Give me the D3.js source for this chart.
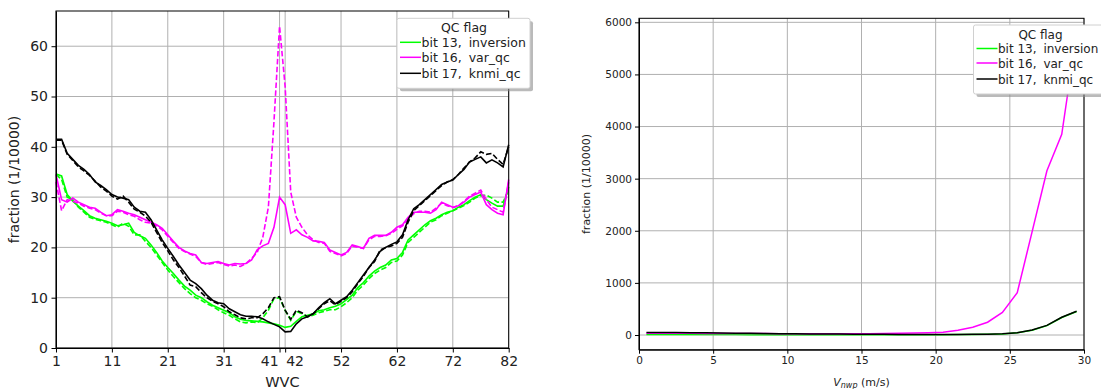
<!DOCTYPE html>
<html>
<head>
<meta charset="utf-8">
<script src="https://cdn.jsdelivr.net/npm/d3@7"></script>
<style>
  body { margin: 0; background: #fff; }
  svg, svg text { font-family: "DejaVu Sans", sans-serif; }
  .grid line { stroke: #b0b0b0; stroke-width: 1; }
  .axis path, .axis line { stroke: #000; }
  .axis text { fill: #222; }
</style>
</head>
<body>
<div id="chart"></div>
<script>
// ---- data, left panel (x = WVC 1..82) ----
var wvc = d3.range(1, 83);
var wvcTicks = [1, 11, 21, 31, 41, 42, 52, 62, 72, 82];

var inversionSolid = [34.6,34.2,30.5,29.2,28.2,27.3,26.3,25.8,25.5,25.2,24.8,24.3,24.5,24.8,23,22.3,21.8,20.5,19,17.3,
  16,14.8,13.5,12.3,11.5,10.5,10,9.2,8.5,8,7.5,7,6.2,5.7,5.5,5.4,5.3,5.2,5,4.8,
  4.5,4.1,4.3,5.3,6.2,6.5,6.8,7.4,7.6,8,8.3,8.8,9.6,10.5,12,13,14.3,15.3,16,16.5,
  17.5,17.8,19,21.5,22.5,23.5,24.5,25.3,25.8,26.5,27,27.3,28,28.5,29.3,30,30.5,29.5,28.8,28.2,
  28.2,32];
var inversionDashed = [34.5,33.5,30,29.5,28,27,26,25.6,25.3,25,24.5,24,24.8,24.2,22.5,22.5,21.2,20,18.5,17,
  15.5,14.2,13,11.8,10.8,10,9.5,8.8,8.3,7.6,7,6.5,5.8,5.2,5,5.2,5,6,7.5,9.8,
  10,7.5,5.5,7.3,6.8,6.2,6.5,7,7.3,7.6,7.6,8.2,9,10,11.5,12.5,13.8,14.8,15.5,16,
  17,17.3,18.5,21,22,23,24,25,25.5,26.3,26.8,27.3,27.8,28.3,29,29.8,30.3,30.4,29.8,29,
  29,31.5];
var varqcSolid = [34.5,29.5,29,29.8,29,28.5,28,27.8,27,26.3,26.5,27.5,27.2,26.8,26.5,26,25.5,25,24.5,23.8,
  22.5,21.2,20,19.3,18.8,18.5,17,16.8,17,17.2,16.8,16.5,16.8,16.7,16.8,17.5,19.5,20.3,20.8,24,
  30,28.5,22.8,23.5,22.5,22,21.3,21.2,21,19.5,19,18.5,19,20.5,20.2,19.8,21.8,22.4,22.4,22.4,
  23,24,24.5,26,27,27,27,26.8,27.5,29,28.5,28,28.3,29,30,30.5,31,28.5,27.5,26.8,
  26.5,33.5];
var varqcDashed = [33,27.3,29.5,29.2,28.8,28.2,27.8,27.5,26.8,26.3,26.3,27.2,27,26.5,26.2,25.5,25,24.8,24.3,23.5,
  22.2,21,19.8,19.2,18.7,18.2,17,16.6,16.8,17,16.6,16.3,16.5,16.2,16.8,17.8,19,22,28,45,
  64,52,31,26,24,22.5,21.5,21,20.8,19.2,18.8,18.3,18.8,20.3,20,19.8,21.5,22.2,22.2,22.3,
  22.8,23.6,24.3,25.6,26.7,27.2,27.2,27,27.8,28.8,28.3,27.9,28.3,29.2,30.2,30.8,31.4,29.5,28,27.5,
  27,33];
var knmiSolid = [41.5,41.5,38.7,37.5,36.3,35.5,34.5,33,32.3,31.5,30.5,30,29.8,29.5,28,27.2,27,25.5,23.5,21.5,
  19.8,18.2,16.5,15,13.5,12.8,11.8,10.5,9.5,9,8.8,7.8,7.2,6.6,6.3,6.3,6.2,5.8,5.2,4.7,
  4.2,3.2,3.3,4.8,5.8,6.2,6.8,8,9,9.8,8.8,9.5,10.2,11.5,13,14.5,16,17.5,19.2,20,
  20.6,21.1,22.5,25.5,27.7,28.5,29.5,30.5,31.5,32.5,33,33.4,34.5,35.5,37,37.5,38,36.8,37.4,36.8,
  36,40.4];
var knmiDashed = [41.3,41.3,38.5,37.3,36,35.2,34.3,33.2,32,31.2,30.2,29.6,30.2,29,27.6,27,26.2,25,23,21,
  19.3,17.5,16,14.3,12.5,12.2,11,10,9.3,8.8,8.2,7.2,6.6,6,5.8,6,6,6.8,8,10,
  10.2,7.5,5.7,7.5,7,6.2,6.8,7.8,8.8,9.4,8.6,9.3,10,11.2,12.8,14.2,16,17.2,19.5,20,
  20.3,20.8,22,25,27.3,28.3,29.3,30.3,31.3,32.3,33,33.5,34.5,35.8,37,37.8,39,38.5,38.7,37.5,
  36.5,40];

// ---- data, right panel (x = V_nwp bin centres) ----
var vnwp = d3.range(0.5, 30, 1);
var vInversion = [10,10,9,9,8,8,8,7,7,7,6,6,6,6,5,5,5,5,5,6,
  6,8,10,14,20,42,90,180,335,450];
var vVarqc = [35,34,33,32,31,30,29,28,27,26,26,25,25,25,25,26,28,32,38,45,
  55,90,150,245,435,810,1980,3150,3850,5790];
var vKnmi = [50,48,46,44,41,38,35,32,29,26,23,21,19,17,15,14,13,12,11,11,
  11,12,13,16,22,45,95,185,340,455];

var legendBits = ["bit 13,", "bit 16,", "bit 17,"];
var legendNames = ["inversion", "var_qc", "knmi_qc"];
var colors = ["#00ff00", "#ff00ff", "#000000"];

var svg = d3.select("#chart").append("svg")
    .attr("width", 1101)
    .attr("height", 389);

// ---------------- left panel ----------------
var m1 = {left: 56, top: 11}, w1 = 452.7, h1 = 337;
var g1 = svg.append("g").attr("transform", "translate(" + m1.left + "," + m1.top + ")");

var x1 = d3.scaleLinear().domain([1, 82]).range([0, w1]);
var y1 = d3.scaleLinear().domain([0, 67]).range([h1, 0]);

g1.append("g").attr("class", "grid")
  .selectAll("line").data(wvcTicks).enter().append("line")
    .attr("x1", function(d) { return x1(d); }).attr("x2", function(d) { return x1(d); })
    .attr("y1", 0).attr("y2", h1);
g1.append("g").attr("class", "grid")
  .selectAll("line").data(d3.range(0, 70, 10)).enter().append("line")
    .attr("y1", function(d) { return y1(d); }).attr("y2", function(d) { return y1(d); })
    .attr("x1", 0).attr("x2", w1);

var line1 = d3.line()
    .x(function(d, i) { return x1(wvc[i]); })
    .y(function(d) { return y1(d); });

var series1 = [
  [inversionSolid, inversionDashed],
  [varqcSolid, varqcDashed],
  [knmiSolid, knmiDashed]
];
series1.forEach(function(s, k) {
  g1.append("path").datum(s[0])
      .attr("fill", "none").attr("stroke", colors[k]).attr("stroke-width", 1.6)
      .attr("d", line1);
  g1.append("path").datum(s[1])
      .attr("fill", "none").attr("stroke", colors[k]).attr("stroke-width", 1.6)
      .attr("stroke-dasharray", "5.5,2.4")
      .attr("d", line1);
});

var xAx1 = g1.append("g").attr("class", "axis")
    .attr("transform", "translate(0," + h1 + ")")
    .call(d3.axisBottom(x1).tickValues(wvcTicks).tickSize(4.5).tickPadding(3.5).tickSizeOuter(0))
    .attr("font-family", "DejaVu Sans").attr("font-size", 14);
// 41 and 42 sit next to each other: push the labels apart
xAx1.selectAll(".tick text")
    .attr("text-anchor", function(d) { return d === 41 ? "end" : d === 42 ? "start" : "middle"; })
    .attr("dx", function(d) { return d === 41 ? -1.5 : d === 42 ? 0.5 : 0; });
g1.append("g").attr("class", "axis")
    .call(d3.axisLeft(y1).tickValues(d3.range(0, 70, 10)).tickSize(4.5).tickPadding(3.5).tickSizeOuter(0))
    .attr("font-family", "DejaVu Sans").attr("font-size", 14);
g1.append("rect").attr("width", w1).attr("height", h1)
    .attr("fill", "none").attr("stroke", "#000").attr("stroke-width", 1);

svg.append("text")
    .attr("transform", "translate(19," + (m1.top + h1 / 2) + ") rotate(-90)")
    .attr("text-anchor", "middle").style("font-size", "14px").attr("fill", "#222")
    .text("fraction (1/10000)");
svg.append("text")
    .attr("x", m1.left + w1 / 2).attr("y", 387)
    .attr("text-anchor", "middle").style("font-size", "14.5px").attr("fill", "#222")
    .text("WVC");

// ---------------- right panel ----------------
var m2 = {left: 639, top: 18.3}, w2 = 445, h2 = 331.4;
var g2 = svg.append("g").attr("transform", "translate(" + m2.left + "," + m2.top + ")");

var x2 = d3.scaleLinear().domain([0, 30]).range([0, w2]);
var y2 = d3.scaleLinear().domain([-282, 6077]).range([h2, 0]);

g2.append("g").attr("class", "grid")
  .selectAll("line").data(d3.range(0, 35, 5)).enter().append("line")
    .attr("x1", function(d) { return x2(d); }).attr("x2", function(d) { return x2(d); })
    .attr("y1", 0).attr("y2", h2);
g2.append("g").attr("class", "grid")
  .selectAll("line").data(d3.range(0, 7000, 1000)).enter().append("line")
    .attr("y1", function(d) { return y2(d); }).attr("y2", function(d) { return y2(d); })
    .attr("x1", 0).attr("x2", w2);

var line2 = d3.line()
    .x(function(d, i) { return x2(vnwp[i]); })
    .y(function(d) { return y2(d); });

[vInversion, vVarqc, vKnmi].forEach(function(s, k) {
  g2.append("path").datum(s)
      .attr("fill", "none").attr("stroke", colors[k]).attr("stroke-width", 1.5)
      .attr("d", line2);
});

g2.append("g").attr("class", "axis")
    .attr("transform", "translate(0," + h2 + ")")
    .call(d3.axisBottom(x2).tickValues(d3.range(0, 35, 5)).tickSize(4).tickPadding(3).tickSizeOuter(0))
    .attr("font-family", "DejaVu Sans").attr("font-size", 10.5);
g2.append("g").attr("class", "axis")
    .call(d3.axisLeft(y2).tickValues(d3.range(0, 7000, 1000)).tickFormat(d3.format("d"))
      .tickSize(4).tickPadding(3).tickSizeOuter(0))
    .attr("font-family", "DejaVu Sans").attr("font-size", 10.5);
g2.append("rect").attr("width", w2).attr("height", h2)
    .attr("fill", "none").attr("stroke", "#000").attr("stroke-width", 1);

svg.append("text")
    .attr("transform", "translate(590," + (m2.top + h2 / 2) + ") rotate(-90)")
    .attr("text-anchor", "middle").style("font-size", "11px").attr("fill", "#222")
    .text("fraction (1/10000)");
var xl = svg.append("text")
    .attr("x", m2.left + w2 / 2).attr("y", 386)
    .attr("text-anchor", "middle").style("font-size", "11px").attr("fill", "#222");
xl.append("tspan").style("font-style", "italic").text("V");
xl.append("tspan").style("font-style", "italic").style("font-size", "8px").attr("dy", 2).text("nwp");
xl.append("tspan").attr("dy", -2).text(" (m/s)");

// ---------------- legends ----------------
function legend(x, y, w, h, rows, fs) {
  var lg = svg.append("g").attr("transform", "translate(" + x + "," + y + ")");
  lg.append("rect").attr("x", 3).attr("y", 3).attr("width", w).attr("height", h)
      .attr("rx", 2).attr("fill", "#8c8c8c").attr("opacity", 0.6);
  lg.append("rect").attr("width", w).attr("height", h)
      .attr("rx", 2).attr("fill", "#fff").attr("stroke", "#d0d0d0");
  lg.append("text").attr("x", 67).attr("y", 14)
      .attr("text-anchor", "middle").style("font-size", fs + "px").attr("fill", "#222")
      .text("QC flag");
  legendBits.forEach(function(t, i) {
    lg.append("line").attr("x1", 3).attr("x2", 24)
        .attr("y1", rows[i]).attr("y2", rows[i])
        .attr("stroke", colors[i]).attr("stroke-width", 1.5);
    var tx = lg.append("text").attr("x", 24.5).attr("y", rows[i] + 4.5)
        .style("font-size", fs + "px").attr("fill", "#222");
    tx.append("tspan").text(t);
    tx.append("tspan").attr("dx", 3).text(" " + legendNames[i]);
  });
}
legend(397, 18.3, 133, 70, [24, 39, 55], 12.5);
legend(973.5, 25, 134, 69, [23.5, 38, 54], 12);
</script>
</body>
</html>
